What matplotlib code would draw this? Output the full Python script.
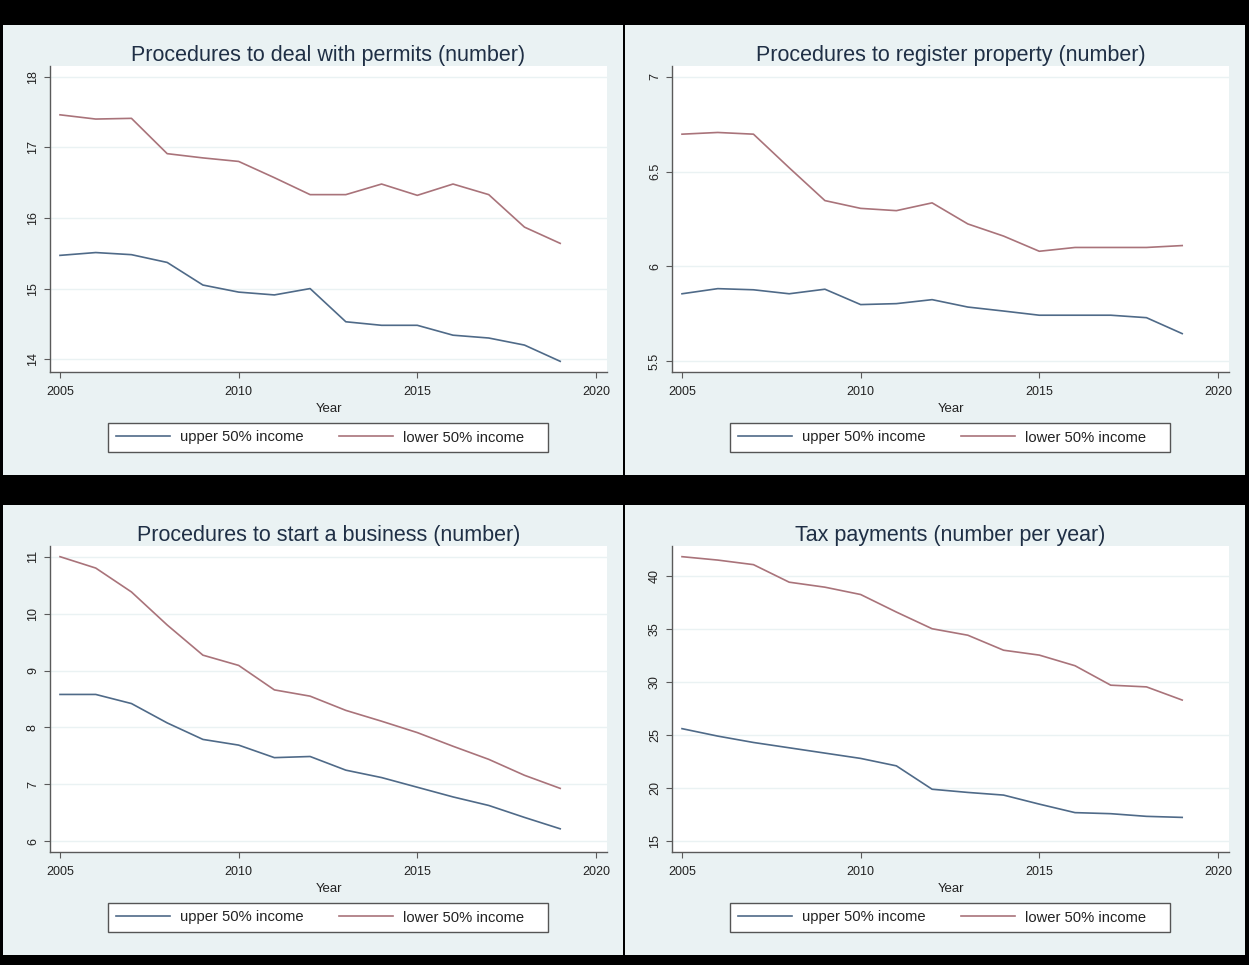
import matplotlib
matplotlib.use('Agg')
import matplotlib.pyplot as plt
from matplotlib.patches import Rectangle
from matplotlib.ticker import FuncFormatter

plt.rcParams['font.family'] = ['Liberation Sans', 'DejaVu Sans']

# 年份
years = [2005, 2006, 2007, 2008, 2009, 2010, 2011, 2012, 2013, 2014, 2015, 2016, 2017, 2018, 2019]

# 建筑许可程序数
permits_upper = [15.47, 15.51, 15.48, 15.37, 15.05, 14.95, 14.91, 15.00, 14.53, 14.48, 14.48, 14.34, 14.30, 14.20, 13.97]
permits_lower = [17.46, 17.40, 17.41, 16.91, 16.85, 16.80, 16.57, 16.33, 16.33, 16.48, 16.32, 16.48, 16.33, 15.87, 15.64]

# 财产登记程序数
property_upper = [5.856, 5.883, 5.877, 5.856, 5.880, 5.799, 5.804, 5.825, 5.786, 5.765, 5.743, 5.743, 5.743, 5.730, 5.646]
property_lower = [6.697, 6.706, 6.697, 6.520, 6.347, 6.306, 6.294, 6.335, 6.224, 6.160, 6.080, 6.100, 6.100, 6.100, 6.110]

# 开办企业程序数
business_upper = [8.58, 8.58, 8.42, 8.08, 7.79, 7.69, 7.47, 7.49, 7.25, 7.12, 6.95, 6.78, 6.63, 6.42, 6.22]
business_lower = [11.00, 10.80, 10.38, 9.80, 9.27, 9.09, 8.66, 8.55, 8.30, 8.11, 7.91, 7.67, 7.44, 7.16, 6.93]

# 纳税次数
tax_upper = [25.6, 24.9, 24.3, 23.8, 23.3, 22.8, 22.1, 19.9, 19.6, 19.35, 18.5, 17.7, 17.6, 17.35, 17.25]
tax_lower = [41.78, 41.46, 41.03, 39.38, 38.91, 38.22, 36.57, 35.0, 34.39, 32.98, 32.52, 31.52, 29.69, 29.53, 28.29]

titles = ['Procedures to deal with permits (number)',
          'Procedures to register property (number)',
          'Procedures to start a business (number)',
          'Tax payments (number per year)']
yticks_list = [[14, 15, 16, 17, 18],
               [5.5, 6, 6.5, 7],
               [6, 7, 8, 9, 10, 11],
               [15, 20, 25, 30, 35, 40]]
xticks = [2005, 2010, 2015, 2020]
series = [(permits_upper, permits_lower),
          (property_upper, property_lower),
          (business_upper, business_lower),
          (tax_upper, tax_lower)]

W, H = 1249, 965
BG = '#eaf2f3'
NAVY = '#4f6a88'
MAROON = '#a9737a'

fig = plt.figure(figsize=(W / 100, H / 100), dpi=100, facecolor='black')

# 面板位置（像素）：左上、右上、左下、右下
offsets = [(0, 0), (622, 0), (0, 480), (622, 480)]

for i, (dx, dy) in enumerate(offsets):
    # 面板底色
    px0, py0, px1, py1 = 3 + dx, 25 + dy, 623 + dx, 475 + dy
    fig.patches.append(Rectangle((px0 / W, 1 - py1 / H), (px1 - px0) / W, (py1 - py0) / H,
                                 transform=fig.transFigure, facecolor=BG, edgecolor='none', zorder=-5))

    l, r, t, b = 50 + dx, 607 + dx, 66 + dy, 372 + dy
    aw, ah = r - l, b - t
    ax = fig.add_axes([l / W, 1 - b / H, aw / W, ah / H])
    ax.set_facecolor('white')

    upper, lower = series[i]
    ax.plot(years, upper, color=NAVY, lw=1.2, label='upper 50% income')
    ax.plot(years, lower, color=MAROON, lw=1.2, label='lower 50% income')

    yt = yticks_list[i]
    lo = min(yt[0], min(upper), min(lower))
    hi = max(yt[-1], max(upper), max(lower))
    pad = 0.0375 * (hi - lo)
    ax.set_ylim(lo - pad, hi + pad)
    ax.set_xlim(2004.72, 2020.31)
    ax.set_yticks(yt)
    ax.set_xticks(xticks)
    ax.yaxis.set_major_formatter(FuncFormatter(lambda v, p: '%g' % v))

    ax.grid(axis='y', color=BG, lw=1.0)
    ax.set_axisbelow(True)
    for s in ['top', 'right']:
        ax.spines[s].set_visible(False)
    for s in ['left', 'bottom']:
        ax.spines[s].set_color('#5a5a5a')
        ax.spines[s].set_linewidth(1.0)
    ax.tick_params(axis='both', direction='out', length=4, width=0.8, color='#5a5a5a',
                   labelsize=9, labelcolor='#222222')
    ax.tick_params(axis='x', pad=6)
    ax.tick_params(axis='y', pad=4)
    for lab in ax.get_yticklabels():
        lab.set_rotation(90)
        lab.set_va('center')

    ax.set_title(titles[i], fontsize=15.5, color='#1f2f45', pad=3)
    ax.set_xlabel('Year', fontsize=9.5, color='#222222', labelpad=4)

    # 图例外框：x 108-548 px, y 423-452 px（相对面板）
    ax.add_patch(Rectangle((58 / aw, -80 / ah), 440 / aw, 29 / ah, transform=ax.transAxes,
                           clip_on=False, facecolor='white', edgecolor='#555555', lw=1.0, zorder=4))
    leg = ax.legend(loc='center left', bbox_to_anchor=(58 / aw, -65.5 / ah), ncol=2, fontsize=10.6,
                    frameon=False, handlelength=3.67, handletextpad=0.68,
                    columnspacing=2.38, borderpad=0.54, borderaxespad=0)
    leg.set_zorder(5)
    for txt in leg.get_texts():
        txt.set_color('#222222')

fig.savefig('out.png', dpi=100, facecolor='black')
